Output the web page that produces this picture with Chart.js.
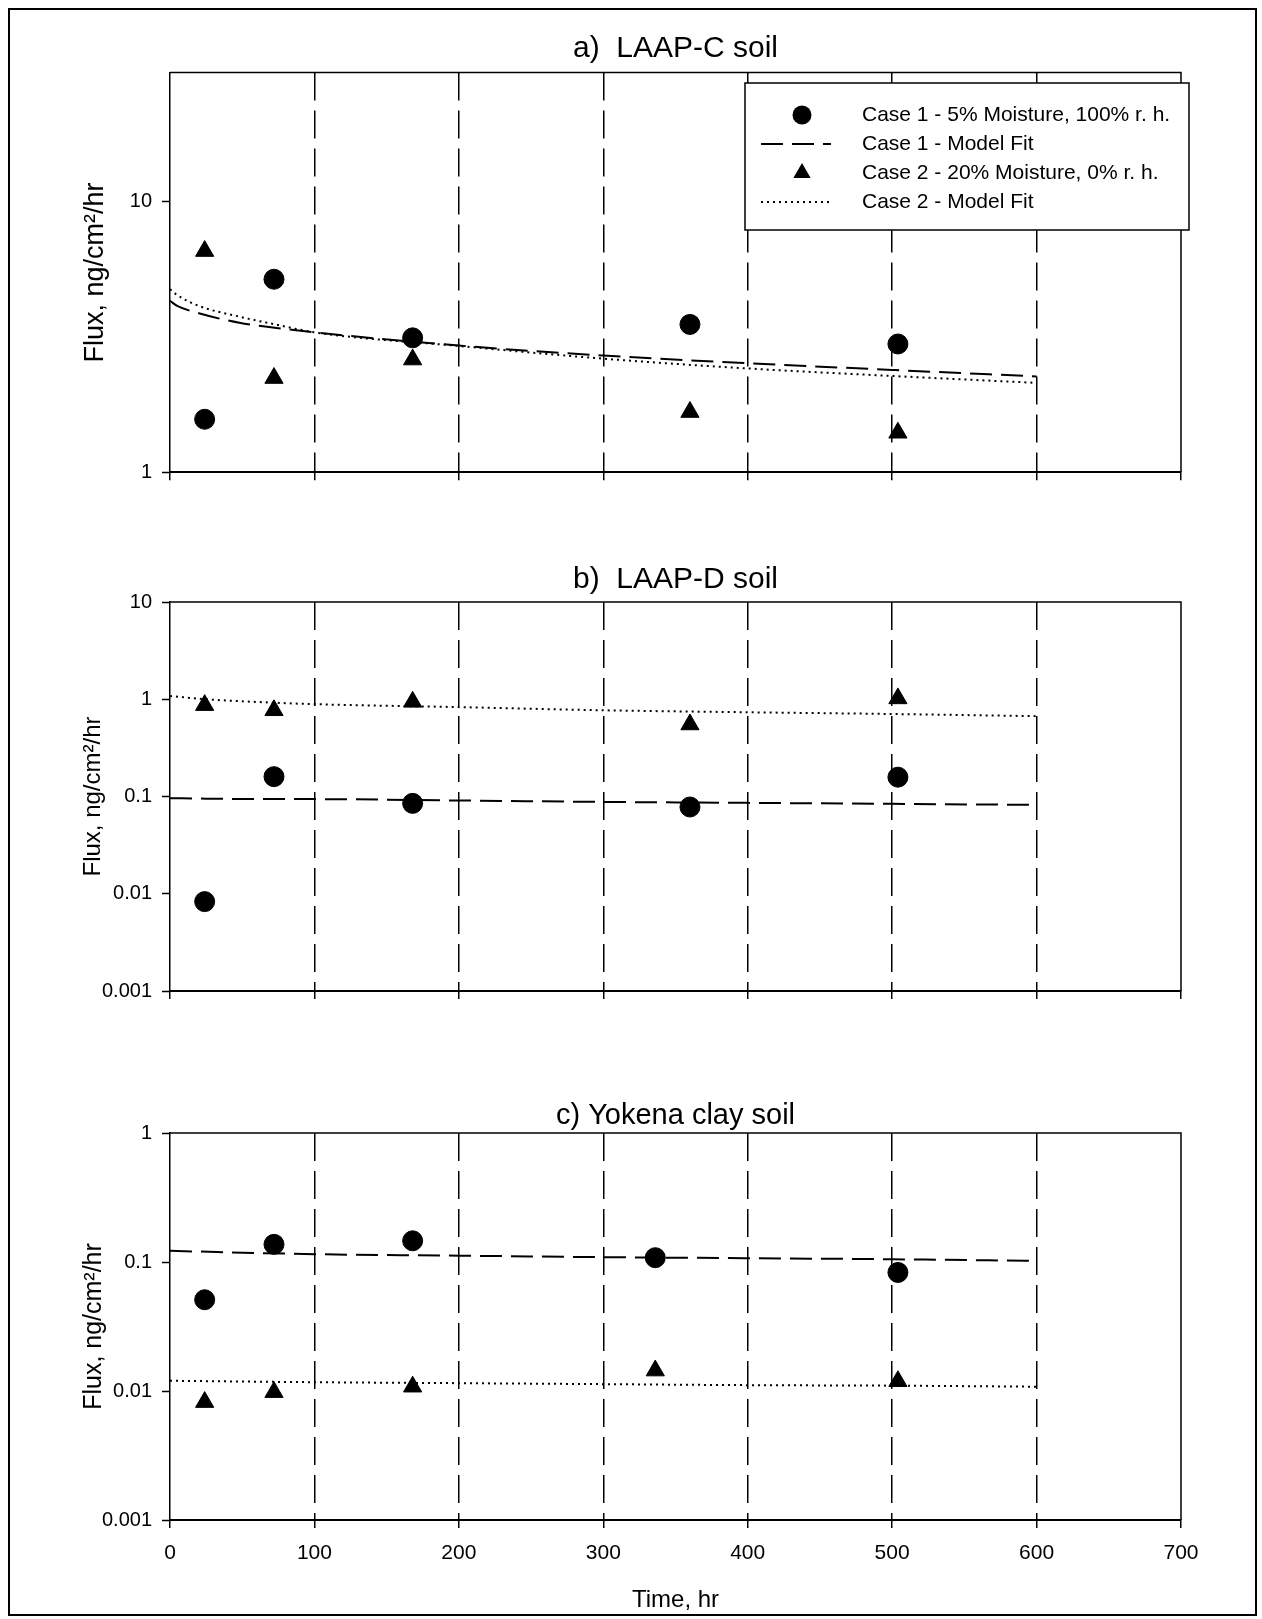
<!DOCTYPE html>
<html>
<head>
<meta charset="utf-8">
<title>Flux vs time</title>
<script src="https://cdn.jsdelivr.net/npm/chart.js@4.4.0/dist/chart.umd.min.js"></script>
<style>
  html, body { margin: 0; padding: 0; background: #fff; overflow: hidden; }
  body { position: relative; width: 1262px; height: 1619px; }
  #frame { position: absolute; left: 8px; top: 8px; width: 1249px; height: 1608px; border: 2px solid #000; box-sizing: border-box; }
  canvas { position: absolute; left: 0; }
</style>
</head>
<body>
<div id="frame"></div>
<canvas id="chartA" width="1262" height="500" style="top:0"></canvas>
<canvas id="chartB" width="1262" height="520" style="top:500px"></canvas>
<canvas id="chartC" width="1262" height="600" style="top:1020px"></canvas>
<script>
const seriesLabels = ["Case 1 - 5% Moisture, 100% r. h.", "Case 1 - Model Fit", "Case 2 - 20% Moisture, 0% r. h.", "Case 2 - Model Fit"];

// a) LAAP-C soil
const timeA = [24, 72, 168, 360, 504];
const case1A = [1.57, 5.17, 3.14, 3.52, 2.98];
const case2A = [6.57, 2.23, 2.61, 1.67, 1.40];
const fitTimeA = [0, 5, 20, 48, 75, 100, 200, 300, 400, 500, 600];
const fit1A = [4.30, 4.12, 3.87, 3.57, 3.41, 3.29, 2.94, 2.70, 2.53, 2.39, 2.26];
const fit2A = [4.75, 4.52, 4.12, 3.76, 3.50, 3.29, 2.93, 2.63, 2.42, 2.27, 2.14];

// b) LAAP-D soil
const timeB = [24, 72, 168, 360, 504];
const case1B = [0.0083, 0.16, 0.085, 0.078, 0.158];
const case2B = [0.87, 0.77, 0.94, 0.55, 1.02];
const fitTimeB = [0, 25, 73, 100, 200, 300, 400, 500, 600];
const fit1B = [0.096, 0.095, 0.094, 0.094, 0.091, 0.088, 0.086, 0.084, 0.082];
const fit2B = [1.08, 1.00, 0.92, 0.89, 0.83, 0.77, 0.735, 0.705, 0.67];

// c) Yokena clay soil
const timeC = [24, 72, 168, 336, 504];
const case1C = [0.051, 0.137, 0.146, 0.108, 0.083];
const case2C = [0.0082, 0.0098, 0.0108, 0.0144, 0.0119];
const fitTimeC = [0, 100, 200, 300, 400, 500, 600];
const fit1C = [0.122, 0.115, 0.112, 0.109, 0.107, 0.105, 0.102];
const fit2C = [0.0120, 0.0117, 0.0115, 0.0113, 0.0111, 0.0110, 0.0108];

const FONT = "'Liberation Sans', Arial, sans-serif";
Chart.defaults.font.family = FONT;
Chart.defaults.color = '#000';

function pts(xs, ys) {
  return xs.map((x, i) => ({ x: x, y: ys[i] }));
}

function decadeLabel(v) {
  const e = Math.round(Math.log10(v));
  return e >= 0 ? String(Math.pow(10, e)) : Math.pow(10, e).toFixed(-e);
}

function makeDatasets(time, c1, fitTime, f1, c2, f2) {
  return [
    { label: seriesLabels[0], data: pts(time, c1), showLine: false, pointStyle: 'circle', pointRadius: 10,
      backgroundColor: '#000', borderColor: '#000', borderWidth: 1 },
    { label: seriesLabels[1], data: pts(fitTime, f1), showLine: true, pointRadius: 0, borderColor: '#000',
      borderWidth: 2, borderDash: [22, 9], cubicInterpolationMode: 'monotone' },
    { label: seriesLabels[2], data: pts(time, c2), showLine: false, pointStyle: 'triangle', pointRadius: 10.5,
      backgroundColor: '#000', borderColor: '#000', borderWidth: 1 },
    { label: seriesLabels[3], data: pts(fitTime, f2), showLine: true, pointRadius: 0, borderColor: '#000',
      borderWidth: 2, borderDash: [2, 4], cubicInterpolationMode: 'monotone' }
  ];
}

// top and right edges of the plot box
const framePlugin = {
  id: 'frame',
  beforeDatasetsDraw(chart) {
    const { ctx, chartArea: a } = chart;
    ctx.save();
    ctx.strokeStyle = '#000';
    ctx.lineWidth = 1.5;
    ctx.beginPath();
    ctx.moveTo(a.left, a.top);
    ctx.lineTo(a.right, a.top);
    ctx.lineTo(a.right, a.bottom);
    ctx.stroke();
    ctx.restore();
  }
};

// boxed legend sitting inside the plot (panel a)
const boxLegend = {
  id: 'boxLegend',
  afterDatasetsDraw(chart, args, o) {
    if (!o.show) return;
    const ctx = chart.ctx;
    ctx.save();
    ctx.fillStyle = '#fff';
    ctx.fillRect(o.x, o.y, o.w, o.h);
    ctx.strokeStyle = '#000';
    ctx.lineWidth = 1.5;
    ctx.strokeRect(o.x, o.y, o.w, o.h);
    chart.data.datasets.forEach((ds, i) => {
      const y = o.y + o.first + i * o.row;
      const cx = o.x + 57;
      ctx.fillStyle = '#000';
      ctx.strokeStyle = '#000';
      if (ds.showLine) {
        ctx.setLineDash(ds.borderDash || []);
        ctx.lineWidth = ds.borderWidth;
        ctx.beginPath();
        ctx.moveTo(o.x + 16, y);
        ctx.lineTo(o.x + 86, y);
        ctx.stroke();
        ctx.setLineDash([]);
      } else if (ds.pointStyle === 'triangle') {
        const r = 10;
        ctx.beginPath();
        ctx.moveTo(cx, y - r);
        ctx.lineTo(cx + r * Math.sin(2 * Math.PI / 3), y + r / 2);
        ctx.lineTo(cx - r * Math.sin(2 * Math.PI / 3), y + r / 2);
        ctx.closePath();
        ctx.fill();
      } else {
        ctx.beginPath();
        ctx.arc(cx, y, 9.5, 0, 2 * Math.PI);
        ctx.fill();
      }
      ctx.font = '21px ' + FONT;
      ctx.textBaseline = 'middle';
      ctx.textAlign = 'left';
      ctx.fillText(ds.label, o.x + 117, y);
    });
    ctx.restore();
  }
};

function makeScales(ymin, ymax, showX, yTitleSize) {
  return {
    x: {
      type: 'linear', min: 0, max: 700,
      ticks: { stepSize: 100, display: showX, padding: 13, font: { size: 21 } },
      grid: {
        color: c => (c.tick && (c.tick.value === 0 || c.tick.value === 700)) ? 'rgba(0,0,0,0)' : '#000',
        lineWidth: 1.5, tickColor: '#000', tickLength: 8, tickWidth: 1.5
      },
      border: { display: true, color: '#000', width: 2, dash: [28, 10] },
      title: { display: showX, text: 'Time, hr', font: { size: 24 }, padding: 4 },
      afterFit: s => { s.height = showX ? 98.4 : 8; }
    },
    y: {
      type: 'logarithmic', min: ymin, max: ymax,
      afterBuildTicks: s => {
        s.ticks = s.ticks.filter(t => Math.abs(Math.log10(t.value) - Math.round(Math.log10(t.value))) < 1e-6);
      },
      ticks: { callback: v => decadeLabel(v), padding: 10, font: { size: 20 }, autoSkip: false },
      grid: { drawOnChartArea: false, tickLength: 8, color: '#000', tickWidth: 1.5 },
      border: { color: '#000', width: 1.5 },
      title: { display: true, text: 'Flux, ng/cm²/hr', font: { size: yTitleSize }, padding: 4 },
      afterFit: s => { s.width = 95; }
    }
  };
}

function makeChart(id, p) {
  return new Chart(document.getElementById(id), {
    type: 'scatter',
    data: { datasets: p.datasets },
    options: {
      responsive: false,
      animation: false,
      devicePixelRatio: 1,
      layout: { padding: { left: 75, right: 81, top: 0, bottom: p.bottomPad } },
      scales: makeScales(p.ymin, p.ymax, p.showX, p.yTitleSize),
      plugins: {
        legend: { display: false },
        tooltip: { enabled: false },
        title: {
          display: true, text: p.title, fullSize: false, color: '#000',
          font: { size: p.titleSize, weight: 'normal' }, padding: p.titlePad
        },
        boxLegend: p.legend || { show: false }
      }
    },
    plugins: [framePlugin, boxLegend]
  });
}

makeChart('chartA', {
  title: 'a)  LAAP-C soil', titleSize: 30, titlePad: { top: 31, bottom: 5.6 }, bottomPad: 19.7,
  datasets: makeDatasets(timeA, case1A, fitTimeA, fit1A, case2A, fit2A),
  ymin: 1, ymax: 30, showX: false, yTitleSize: 27,
  legend: { show: true, x: 745, y: 83, w: 444, h: 147, first: 32, row: 29 }
});

makeChart('chartB', {
  title: 'b)  LAAP-D soil', titleSize: 30, titlePad: { top: 62, bottom: 4 }, bottomPad: 21,
  datasets: makeDatasets(timeB, case1B, fitTimeB, fit1B, case2B, fit2B),
  ymin: 0.001, ymax: 10, showX: false, yTitleSize: 24
});

makeChart('chartC', {
  title: 'c) Yokena clay soil', titleSize: 29, titlePad: { top: 78.2, bottom: 0 }, bottomPad: 1.6,
  datasets: makeDatasets(timeC, case1C, fitTimeC, fit1C, case2C, fit2C),
  ymin: 0.001, ymax: 1, showX: true, yTitleSize: 25
});
</script>
</body>
</html>
